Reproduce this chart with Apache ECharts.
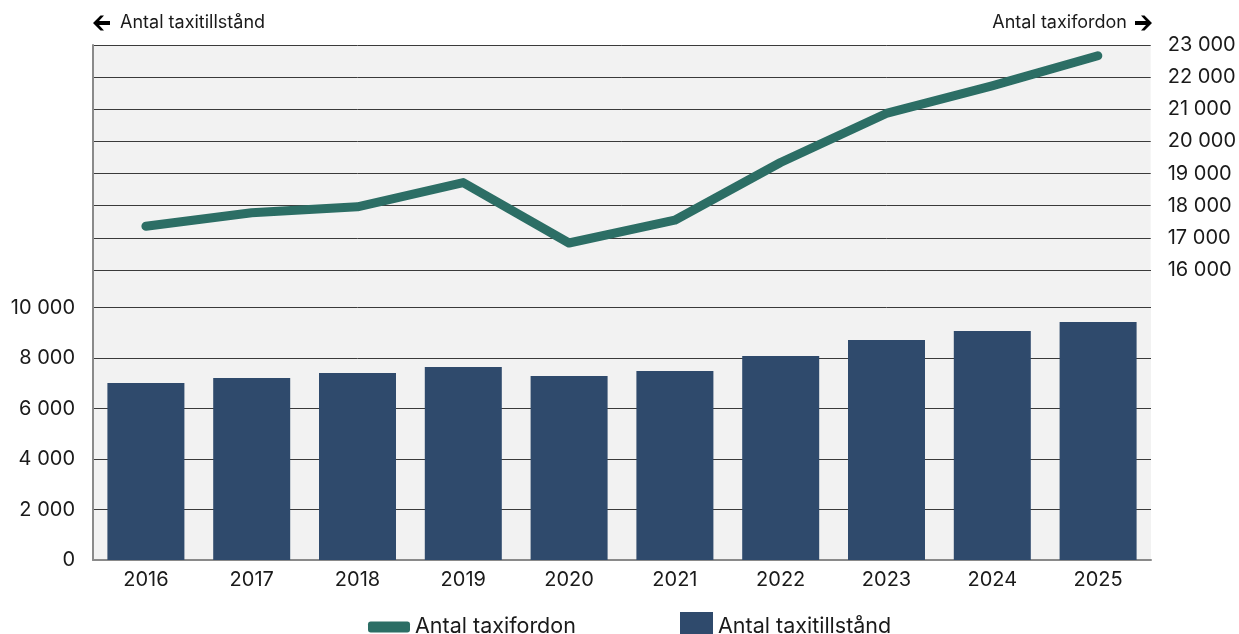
<!DOCTYPE html>
<html><head><meta charset="utf-8">
<script src="https://cdn.jsdelivr.net/npm/echarts@6/dist/echarts.min.js"></script>
<style>html,body{margin:0;padding:0;background:#fff}#c{width:1239px;height:634px}</style>
</head><body><div id="c"></div>
<script>
const years = ['2016','2017','2018','2019','2020','2021','2022','2023','2024','2025'];
const taxitillstand = [7010, 7208, 7406, 7644, 7287, 7485, 8079, 8713, 9069, 9426];
const taxifordon = [17360, 17780, 17965, 18720, 16840, 17550, 19345, 20870, 21730, 22665];
const leftTicks = {min: 0, max: 11485, interval: 2000, labelMax: 10000};
const rightTicks = {min: 16000, max: 23000, interval: 1000};
const lineName = 'Antal taxifordon';
const barName = 'Antal taxitillstånd';
const leftTitle = 'Antal taxitillstånd';
const rightTitle = 'Antal taxifordon';

const FONT = 'Inter, "Noto Sans", sans-serif';
const fmt = v => String(v).replace(/\B(?=(\d{3})+(?!\d))/g, ' ');
const chart = echarts.init(document.getElementById('c'), null, {renderer: 'canvas'});
const gridBg = '#f2f2f2';
const splitCol = '#3a3a3a';
const axisCol = '#8a8a8a';
// arrow icon shape, 17x16 box, pointing left
const arrowShape = [[0,8],[7.5,0.5],[11,0.5],[6,6],[17,6],[17,10],[6,10],[11,15.5],[7.5,15.5]];
const arrowAt = (ox, oy, flip) => arrowShape.map(([x, y]) => [ox + (flip ? 17 - x : x), oy + y]);

chart.setOption({
  animation: false,
  textStyle: {fontFamily: FONT},
  grid: [
    {left: 93, right: 88, top: 45, height: 225, show: true, backgroundColor: gridBg, borderWidth: 0},
    {left: 93, right: 88, top: 270, bottom: 74, show: true, backgroundColor: gridBg, borderWidth: 0}
  ],
  xAxis: [
    {type: 'category', gridIndex: 0, data: years, show: false, boundaryGap: true},
    {type: 'category', gridIndex: 1, data: years, boundaryGap: true,
     axisLine: {lineStyle: {color: axisCol, width: 2}},
     axisTick: {show: false},
     axisLabel: {color: '#1a1a1a', fontSize: 20, margin: 10, fontFamily: FONT}}
  ],
  yAxis: [
    {type: 'value', gridIndex: 0, position: 'right', min: rightTicks.min, max: rightTicks.max, interval: rightTicks.interval,
     axisLine: {show: false}, axisTick: {show: false},
     axisLabel: {color: '#1a1a1a', fontSize: 20, margin: 17, formatter: v => fmt(v), fontFamily: FONT},
     splitLine: {show: true, lineStyle: {color: splitCol, width: 1}}},
    {type: 'value', gridIndex: 0, position: 'left', min: rightTicks.min, max: rightTicks.max, interval: rightTicks.interval,
     axisLine: {show: true, onZero: false, lineStyle: {color: axisCol, width: 2}}, axisTick: {show: false},
     axisLabel: {show: false}, splitLine: {show: false}},
    {type: 'value', gridIndex: 1, position: 'left', min: leftTicks.min, max: leftTicks.max, interval: leftTicks.interval,
     axisLine: {show: true, onZero: false, lineStyle: {color: axisCol, width: 2}}, axisTick: {show: false},
     axisLabel: {color: '#1a1a1a', fontSize: 20, margin: 18, showMaxLabel: false, fontFamily: FONT,
       formatter: v => v > leftTicks.labelMax ? '' : fmt(v)},
     splitLine: {show: true, lineStyle: {color: splitCol, width: 1}}}
  ],
  legend: [
    {data: [lineName], left: 363, top: 611, icon: 'roundRect', itemWidth: 42, itemHeight: 11, itemGap: 10,
     textStyle: {fontSize: 21.5, color: '#1a1a1a', fontFamily: FONT}},
    {data: [barName], left: 675, top: 607, icon: 'rect', itemWidth: 33, itemHeight: 30, itemGap: 10,
     textStyle: {fontSize: 21.5, color: '#1a1a1a', fontFamily: FONT}}
  ],
  graphic: [
    {type: 'polygon', shape: {points: arrowAt(93, 15, false)}, style: {fill: '#000'}},
    {type: 'text', left: 120, top: 14, style: {text: leftTitle, fill: '#1a1a1a', font: '18px ' + FONT}},
    {type: 'polygon', shape: {points: arrowAt(1135, 15, true)}, style: {fill: '#000'}},
    {type: 'text', right: 112, top: 14, style: {text: rightTitle, fill: '#1a1a1a', font: '18px ' + FONT}}
  ],
  series: [
    {name: barName, type: 'bar', xAxisIndex: 1, yAxisIndex: 2, data: taxitillstand, barWidth: 77,
     itemStyle: {color: '#2f4a6c'}, z: 2},
    {name: lineName, type: 'line', xAxisIndex: 0, yAxisIndex: 0, data: taxifordon, symbol: 'none',
     lineStyle: {width: 9, color: '#2c6e65', cap: 'round', join: 'round'},
     itemStyle: {color: '#2c6e65'}, z: 5}
  ]
});
</script></body></html>
